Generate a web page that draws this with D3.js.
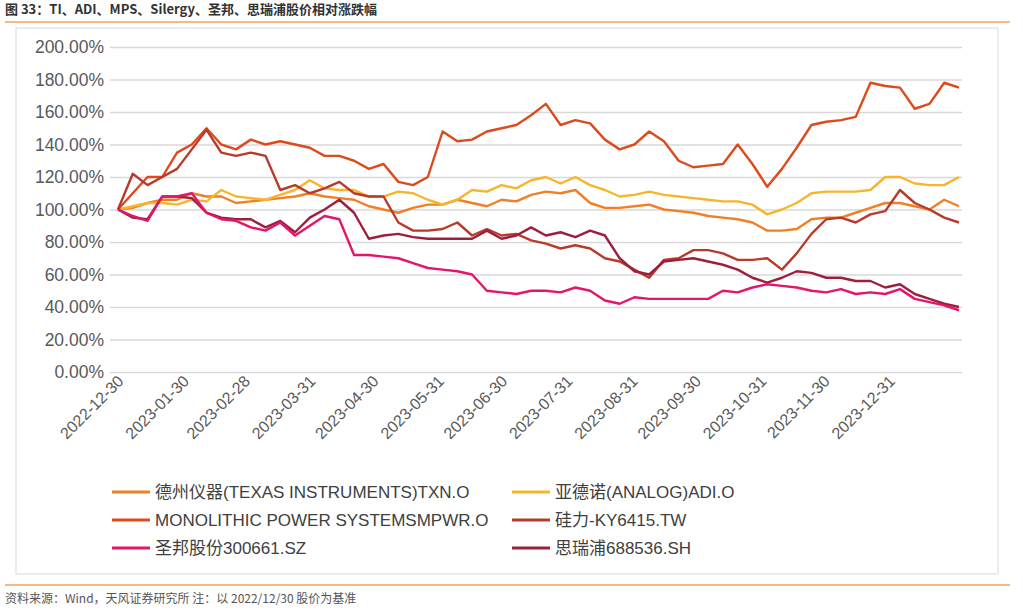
<!DOCTYPE html>
<html><head><meta charset="utf-8">
<script src="https://cdn.jsdelivr.net/npm/d3@7"></script>
<style>body{margin:0;background:#fff;font-family:"Liberation Sans",Arial,"Noto Sans CJK SC",sans-serif;}</style>
</head><body><svg id="c" width="1023" height="610"></svg>
<script>
const startDate = "2022-12-30";
const stepDays = 7;
const tickLabels = ["2022-12-30","2023-01-30","2023-02-28","2023-03-31","2023-04-30","2023-05-31","2023-06-30","2023-07-31","2023-08-31","2023-09-30","2023-10-31","2023-11-30","2023-12-31"];
const yTicks = [0,20,40,60,80,100,120,140,160,180,200];
const seriesNames = ["德州仪器(TEXAS INSTRUMENTS)TXN.O","亚德诺(ANALOG)ADI.O","MONOLITHIC POWER SYSTEMSMPWR.O","硅力-KY6415.TW","圣邦股份300661.SZ","思瑞浦688536.SH"];
const txn = [100,101,104,106,106,110,108,108,104,105,106,107,108,110,108,107,106,102,100,98,101,103,103,106,104,102,106,105,109,111,110,112,104,101,101,102,103,100,99,98,96,95,94,92,87,87,88,94,95,95,98,101,104,104,102,100,106,102];
const adi = [100,102,104,104,103,106,105,112,108,107,106,109,112,118,113,112,112,108,108,111,110,106,103,106,112,111,115,113,118,120,116,120,115,112,108,109,111,109,108,107,106,105,105,103,97,100,104,110,111,111,111,112,120,120,116,115,115,120];
const mps = [100,110,120,120,135,140,150,140,137,143,140,142,140,138,133,133,130,125,128,117,115,120,148,142,143,148,150,152,158,165,152,155,153,143,137,140,148,142,130,126,127,128,140,128,114,125,138,152,154,155,157,178,176,175,162,165,178,175];
const silergy = [100,122,115,120,125,137,149,135,133,135,133,112,115,110,113,117,110,108,108,92,87,87,88,92,84,88,84,85,81,79,76,78,76,70,68,63,58,69,70,75,75,73,69,69,70,63,73,85,94,95,92,97,99,112,104,100,95,92];
const sgm = [100,96,93,108,108,110,98,94,93,89,87,92,84,90,96,94,72,72,71,70,67,64,63,62,60,50,49,48,50,50,49,52,50,44,42,46,45,45,45,45,45,50,49,52,54,53,52,50,49,51,48,49,48,51,45,43,41,38];
const srp = [100,95,94,108,108,107,98,95,94,94,89,93,86,95,100,106,98,82,84,85,83,82,82,82,82,87,82,84,89,84,86,83,87,84,70,62,60,68,69,70,68,66,63,58,55,58,62,61,58,58,56,56,52,54,48,45,42,40];
const colors = ["#F07F26","#F7B52C","#DD4A1C","#B83A2A","#E2166B","#9C1F3D"];

const parse = d3.timeParse("%Y-%m-%d");
const t0 = parse(startDate);
const dates = txn.map((_,i)=>d3.timeDay.offset(t0, i*stepDays));
const all = [txn,adi,mps,silergy,sgm,srp];
const svg = d3.select("#c");
const font = '"Liberation Sans",Arial,"Noto Sans CJK SC",sans-serif';

svg.append("text").attr("x",5).attr("y",14).attr("font-size",13).attr("font-weight","bold").attr("fill","#333")
  .attr("font-family",'"Noto Sans CJK SC",sans-serif').text("图 33：TI、ADI、MPS、Silergy、圣邦、思瑞浦股价相对涨跌幅");
svg.append("line").attr("x1",5).attr("x2",1010).attr("y1",22).attr("y2",22).attr("stroke","#F0A45C").attr("stroke-width",1.5);
svg.append("rect").attr("x",16).attr("y",28).attr("width",982).attr("height",546).attr("fill","none").attr("stroke","#d9d9d9");
svg.append("line").attr("x1",5).attr("x2",1010).attr("y1",585).attr("y2",585).attr("stroke","#F0A45C").attr("stroke-width",1.5);
svg.append("text").attr("x",5).attr("y",603).attr("font-size",12).attr("fill","#555")
  .attr("font-family",'"Noto Sans CJK SC",sans-serif').text("资料来源：Wind，天风证券研究所  注：以 2022/12/30 股价为基准");

const x = d3.scaleTime().domain([t0, dates[dates.length-1]]).range([118,959]);
const y = d3.scaleLinear().domain([0,200]).range([372,47]);

const ya = svg.append("g").attr("transform","translate(110,0)")
  .call(d3.axisLeft(y).tickValues(yTicks).tickSize(-852).tickFormat(d=>d.toFixed(2)+"%"));
ya.select(".domain").remove();
ya.selectAll("line").attr("stroke","#d9d9d9").attr("stroke-width",1.3);
ya.selectAll("text").attr("font-size",17.5).attr("fill","#595959").attr("font-family",font).attr("x",-6);

const xa = svg.append("g").attr("transform","translate(0,372)")
  .call(d3.axisBottom(x).tickValues(tickLabels.map(parse)).tickSize(0).tickFormat(d3.timeFormat("%Y-%m-%d")));
xa.select(".domain").attr("stroke","#d9d9d9");
xa.selectAll("text").attr("font-size",16).attr("fill","#595959").attr("font-family",font)
  .attr("text-anchor","end").attr("dx","0").attr("dy","0").attr("transform","translate(4,8) rotate(-45)");

const line = d3.line().x((d,i)=>x(dates[i])).y(d=>y(d));
const order = [0,1,2,3,5,4];
order.forEach(k=>{
  svg.append("path").datum(all[k]).attr("d",line).attr("fill","none").attr("stroke",colors[k]).attr("stroke-width",2.4).attr("stroke-linejoin","round");
});

seriesNames.forEach((n,k)=>{
  const col = k%2, row = Math.floor(k/2);
  const lx = col===0?112:512, ly = 492+row*28;
  svg.append("line").attr("x1",lx).attr("x2",lx+38).attr("y1",ly).attr("y2",ly).attr("stroke",colors[k]).attr("stroke-width",3);
  svg.append("text").attr("x",lx+43).attr("y",ly+6).attr("font-size",17).attr("fill","#404040").attr("font-family",font).text(n);
});
</script></body></html>
